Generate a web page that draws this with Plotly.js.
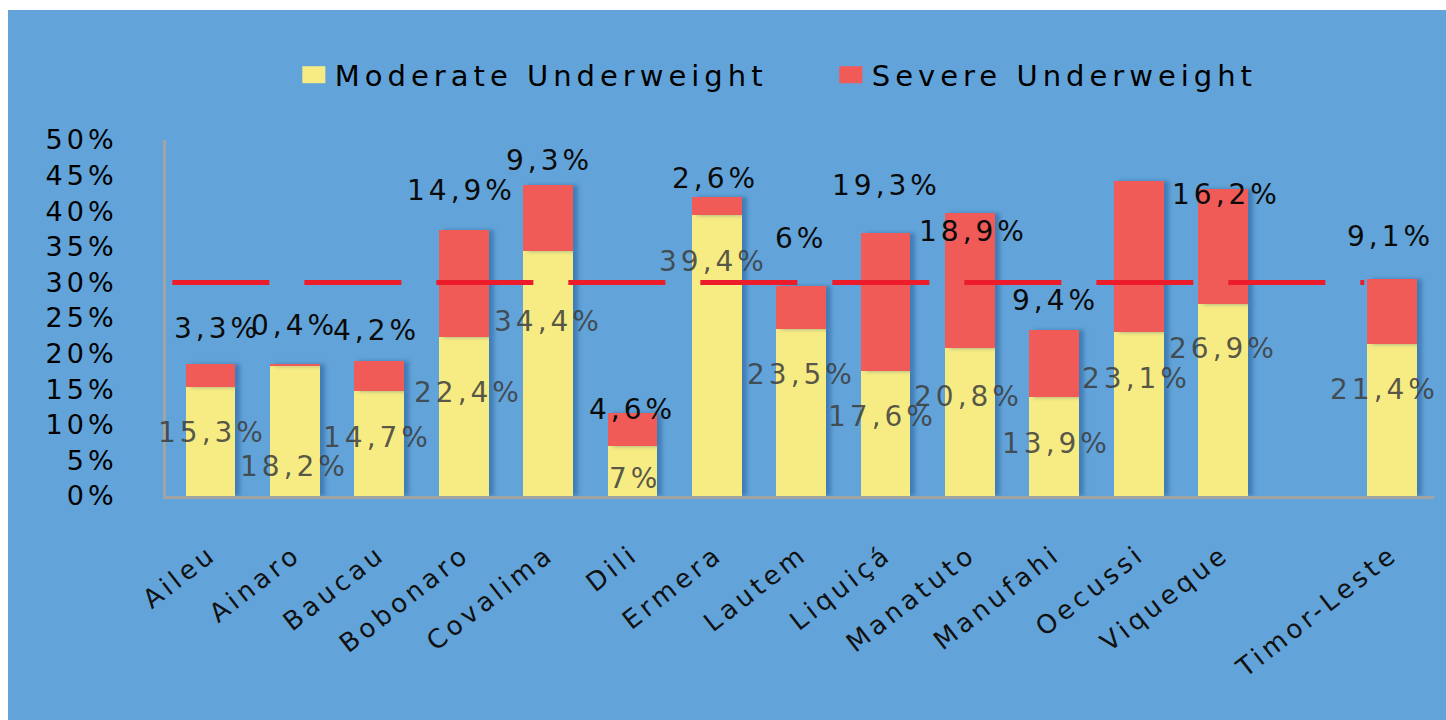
<!DOCTYPE html>
<html>
<head>
<meta charset="utf-8">
<script src="https://cdn.plot.ly/plotly-3.0.1.min.js"></script>
<style>
  html, body { margin: 0; padding: 0; background: #ffffff; width: 1446px; height: 720px; overflow: hidden; }
  #chart { position: absolute; left: 8px; top: 10px; width: 1438px; height: 710px; }
  #chart .main-svg text { letter-spacing: 4px; }
  #chart .annotation-text { letter-spacing: 4.5px; }
  #chart .legend text { letter-spacing: 5px; }
  #chart .legend .scrollbox { clip-path: none !important; }
  #chart .legendpoints path { transform: translate(19px, 0px) scale(1.92, 1.42); }
  #chart .bars path { filter: drop-shadow(5px 0px 2px rgba(25, 75, 140, 0.45)); }
</style>
</head>
<body>
<div id="chart"></div>
<script>
// ---- data ----
const categories = ["Aileu", "Ainaro", "Baucau", "Bobonaro", "Covalima", "Dili", "Ermera", "Lautem", "Liquiçá", "Manatuto", "Manufahi", "Oecussi", "Viqueque", " ", "Timor-Leste"];
const moderate = [15.3, 18.2, 14.7, 22.4, 34.4, 7, 39.4, 23.5, 17.6, 20.8, 13.9, 23.1, 26.9, null, 21.4];
const severe   = [3.3, 0.4, 4.2, 14.9, 9.3, 4.6, 2.6, 6, 19.3, 18.9, 9.4, 21.1, 16.2, null, 9.1];
const seriesNames = ["Moderate Underweight", "Severe Underweight"];
const yTickVals = [0, 5, 10, 15, 20, 25, 30, 35, 40, 45, 50];
const threshold = 30;

// label placement (data-unit heights of the free-floating value labels, as in the original)
const moderateLabelY = [8.9, 4.1, 8.2, 14.6, 24.5, 2.4, 33.0, 17.1, 11.2, 14.0, 7.4, 16.5, 20.7, null, 15.0];
const severeLabelY   = [23.5, 23.9, 23.3, 42.9, 47.1, 12.2, 44.6, 36.1, 43.6, 37.2, 27.4, 50.2, 42.4, null, 36.4];
const moderateShift  = [2, 0, -2, 5, 0, 3, -3, 0, -3, -1, 2, -2, 0, 0, -7];
const severeShift    = [7, 0, -3, -2, 1, 0, -1, 0, 1, 4, 1, 5, 3, 0, -1];

const fmt = v => String(v).replace('.', ',') + '%';

const YELLOW = '#f7ec83';
const RED = '#f05b58';
const BLUE = '#62a4d9';
const FONT = 'DejaVu Sans, Verdana, sans-serif';

const traces = [
  { type: 'bar', name: seriesNames[0], x: categories, y: moderate, marker: { color: YELLOW }, hoverinfo: 'x+y' },
  { type: 'bar', name: seriesNames[1], x: categories, y: severe, marker: { color: RED }, hoverinfo: 'x+y' }
];

const annotations = [];
categories.forEach((c, i) => {
  if (moderate[i] != null) {
    annotations.push({ x: c, y: moderateLabelY[i], xref: 'x', yref: 'y', text: fmt(moderate[i]), showarrow: false,
      xshift: moderateShift[i], font: { family: FONT, size: 28, color: 'rgba(60,60,60,0.85)' } });
  }
  if (severe[i] != null) {
    annotations.push({ x: c, y: severeLabelY[i], xref: 'x', yref: 'y', text: fmt(severe[i]), showarrow: false,
      xshift: severeShift[i], font: { family: FONT, size: 28, color: '#0b0b0b' } });
  }
});

const layout = {
  width: 1438, height: 710,
  margin: { l: 158, r: 12, t: 130, b: 224 },
  paper_bgcolor: BLUE, plot_bgcolor: BLUE,
  barmode: 'stack', bargap: 0.41,
  font: { family: FONT, size: 26, color: '#000' },
  showlegend: true,
  legend: { orientation: 'h', x: 0.1016, xanchor: 'left', y: 1.183, yanchor: 'middle',
    font: { family: FONT, size: 29, color: '#000' }, bgcolor: 'rgba(0,0,0,0)', entrywidth: 492, traceorder: 'normal' },
  xaxis: { type: 'category', tickangle: -38, showgrid: false, zeroline: false, showline: true, linecolor: '#a3a3a3', linewidth: 3,
    ticks: '', ticklabelstandoff: 30, tickfont: { family: FONT, size: 26, color: '#111' }, fixedrange: true },
  yaxis: { range: [0, 50], tickvals: yTickVals, ticktext: yTickVals.map(v => v + '%'), showgrid: false, zeroline: false,
    showline: true, linecolor: '#a3a3a3', linewidth: 3, ticks: '', ticklabelstandoff: 40,
    tickfont: { family: FONT, size: 27, color: '#000' }, fixedrange: true },
  shapes: [
    { type: 'line', xref: 'paper', yref: 'y', x0: 0.005, x1: 0.945, y0: threshold, y1: threshold,
      line: { color: '#ec1c2b', width: 5, dash: '97px,35px' }, layer: 'above' }
  ],
  annotations: annotations
};

Plotly.newPlot('chart', traces, layout, { displayModeBar: false, staticPlot: true });
</script>
</body>
</html>
